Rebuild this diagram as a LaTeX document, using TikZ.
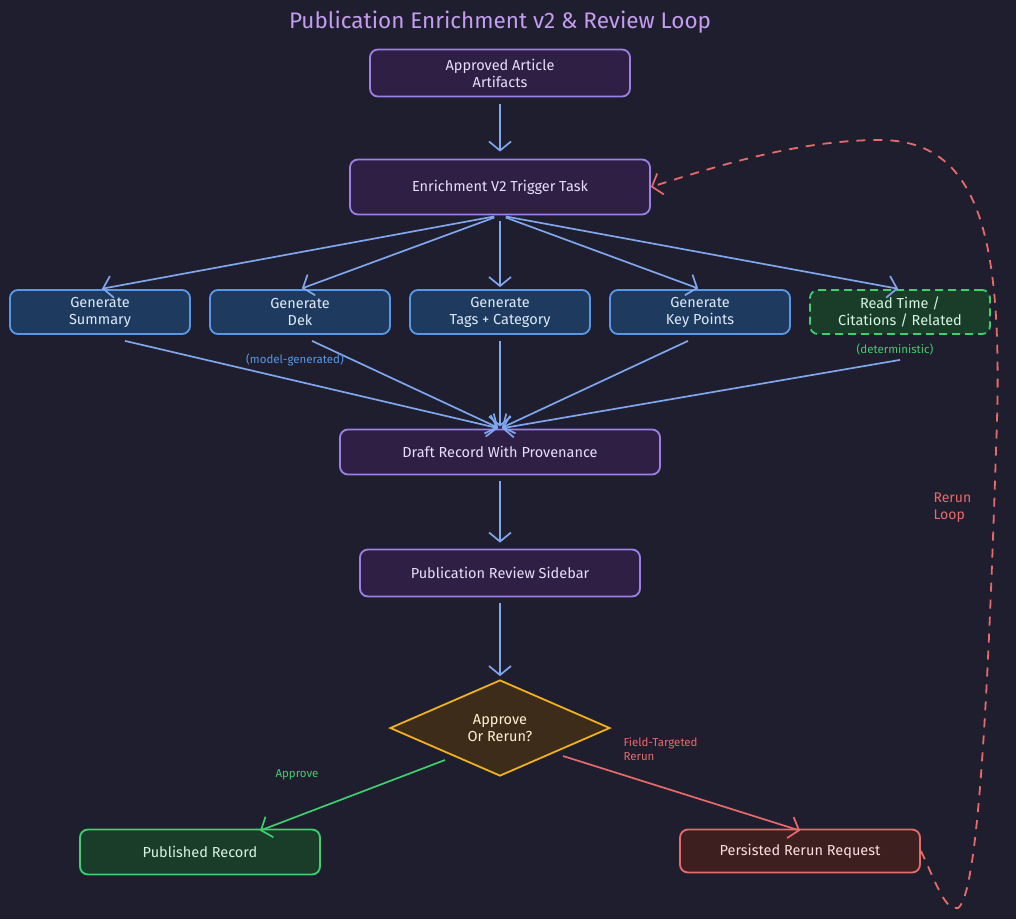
\documentclass[tikz,border=0pt]{standalone}
\usepackage{fontspec}
\setmainfont{Fira Sans}
\usetikzlibrary{arrows.meta,shapes.geometric}
\definecolor{pageback}{RGB}{30,30,46}
\definecolor{titlecol}{RGB}{196,156,240}
\definecolor{stepfill}{RGB}{47,31,69}
\definecolor{stepline}{RGB}{155,128,232}
\definecolor{stepfont}{RGB}{232,222,250}
\definecolor{genfill}{RGB}{30,58,95}
\definecolor{genline}{RGB}{88,152,232}
\definecolor{genfont}{RGB}{222,234,250}
\definecolor{flowline}{RGB}{128,166,238}
\definecolor{detfill}{RGB}{26,61,42}
\definecolor{detline}{RGB}{62,207,110}
\definecolor{detfont}{RGB}{214,244,222}
\definecolor{askfill}{RGB}{61,44,26}
\definecolor{askline}{RGB}{240,176,32}
\definecolor{askfont}{RGB}{255,242,210}
\definecolor{rerunfill}{RGB}{61,31,32}
\definecolor{rerunline}{RGB}{232,106,106}
\definecolor{rerunfont}{RGB}{250,222,222}

\begin{document}
\begin{tikzpicture}[x=1pt,y=-1pt,
  box/.style={rounded corners=8pt,line width=1.8pt,align=center,inner sep=2pt,
    font=\fontsize{14.5}{17}\selectfont},
  stepbox/.style={box,fill=stepfill,draw=stepline,text=stepfont},
  genbox/.style={box,fill=genfill,draw=genline,text=genfont,minimum width=180pt,minimum height=44pt},
  detbox/.style={box,fill=detfill,draw=detline,text=detfont,dash pattern=on 8pt off 5pt},
  rerunbox/.style={box,fill=rerunfill,draw=rerunline,text=rerunfont},
  barb/.style={-{Straight Barb[length=9pt,width=22pt,line width=1.7pt]}},
  flow/.style={draw=flowline,line width=1.7pt,barb},
  note/.style={font=\fontsize{11.5}{14}\selectfont,align=left}]
\fill[pageback] (0,0) rectangle (1016,919);
\useasboundingbox (0,0) rectangle (1016,919);

\node[text=titlecol,font=\fontsize{22.5}{26}\selectfont] (title) at (500,22) {Publication Enrichment v2 \& Review Loop};

\node[stepbox,minimum width=260pt,minimum height=47pt] (artifacts) at (500,73) {Approved Article\\Artifacts};
\node[stepbox,minimum width=300pt,minimum height=55pt] (trigger) at (500,187) {Enrichment V2 Trigger Task};

\node[genbox] (gsum) at (100,312) {Generate\\Summary};
\node[genbox] (gdek) at (300,312) {Generate\\Dek};
\node[genbox] (gtags) at (500,312) {Generate\\Tags + Category};
\node[genbox] (gkey) at (700,312) {Generate\\Key Points};
\node[detbox,minimum width=180pt,minimum height=44pt] (gread) at (900,312) {Read Time /\\Citations / Related};

\node[stepbox,minimum width=320pt,minimum height=45pt] (draft) at (500,452) {Draft Record With Provenance};
\node[stepbox,minimum width=280pt,minimum height=47pt] (sidebar) at (500,573) {Publication Review Sidebar};
\node[diamond,fill=askfill,draw=askline,line width=1.8pt,text=askfont,align=center,
  minimum width=220pt,minimum height=96pt,inner sep=0pt,
  font=\fontsize{14.5}{17}\selectfont] (decide) at (500,728) {Approve\\Or Rerun?};

\node[box,fill=detfill,draw=detline,text=detfont,minimum width=240pt,minimum height=45pt] (published) at (200,852) {Published Record};
\node[rerunbox,minimum width=240pt,minimum height=43pt] (persist) at (800,851) {Persisted Rerun Request};

% main flow
\draw[flow,shorten <=7pt,shorten >=7pt] (artifacts) -- (trigger);
\foreach \g in {gsum,gdek,gtags,gkey,gread}
  \draw[flow,shorten <=6pt,shorten >=2pt] (trigger.south) -- (\g.north);
\draw[flow,shorten >=2pt] ([xshift=25pt,yshift=-6pt]gsum.south) -- (draft.north);
\draw[flow,shorten >=2pt] ([xshift=12pt,yshift=-6pt]gdek.south) -- (draft.north);
\draw[flow,shorten >=2pt] ([yshift=-6pt]gtags.south) -- (draft.north);
\draw[flow,shorten >=2pt] ([xshift=-12pt,yshift=-6pt]gkey.south) -- (draft.north);
\draw[flow,shorten >=2pt] ([yshift=-25pt]gread.south) -- (draft.north);
\draw[flow,shorten <=6pt,shorten >=6pt] (draft) -- (sidebar);
\draw[flow,shorten <=6pt,shorten >=3pt] (sidebar) -- (decide);

\node[note,text=genline] (modelnote) at (295,360) {(model-generated)};
\node[note,text=detline] (detnote) at (895,349) {(deterministic)};

% outcomes
\draw[draw=detline,line width=1.7pt,barb]
  ([xshift=-55pt,yshift=-32pt]decide.center) -- ([xshift=60pt,yshift=-2pt]published.north);
\draw[draw=rerunline,line width=1.7pt,barb]
  ([xshift=63pt,yshift=-28pt]decide.center) -- ([yshift=-2pt]persist.north);
\node[note,text=detline] (approvelabel) at (297,775) {Approve};
\node[note,text=rerunline,anchor=west] (rerunlabel) at (620,749) {Field-Targeted\\Rerun};

% rerun loop
\draw[draw=rerunline,line width=1.8pt,dash pattern=on 9pt off 8pt,barb]
  (persist.east) .. controls (935,880) and (945,912) .. (958,908)
  .. controls (978,895) and (988,700) .. (996,450)
  .. controls (1004,250) and (985,140) .. (880,140)
  .. controls (800,140) and (720,165) .. (trigger.east);
\node[note,text=rerunline,anchor=west,font=\fontsize{14}{17}\selectfont] (looplabel) at (930,508) {Rerun\\Loop};
\end{tikzpicture}
\end{document}
